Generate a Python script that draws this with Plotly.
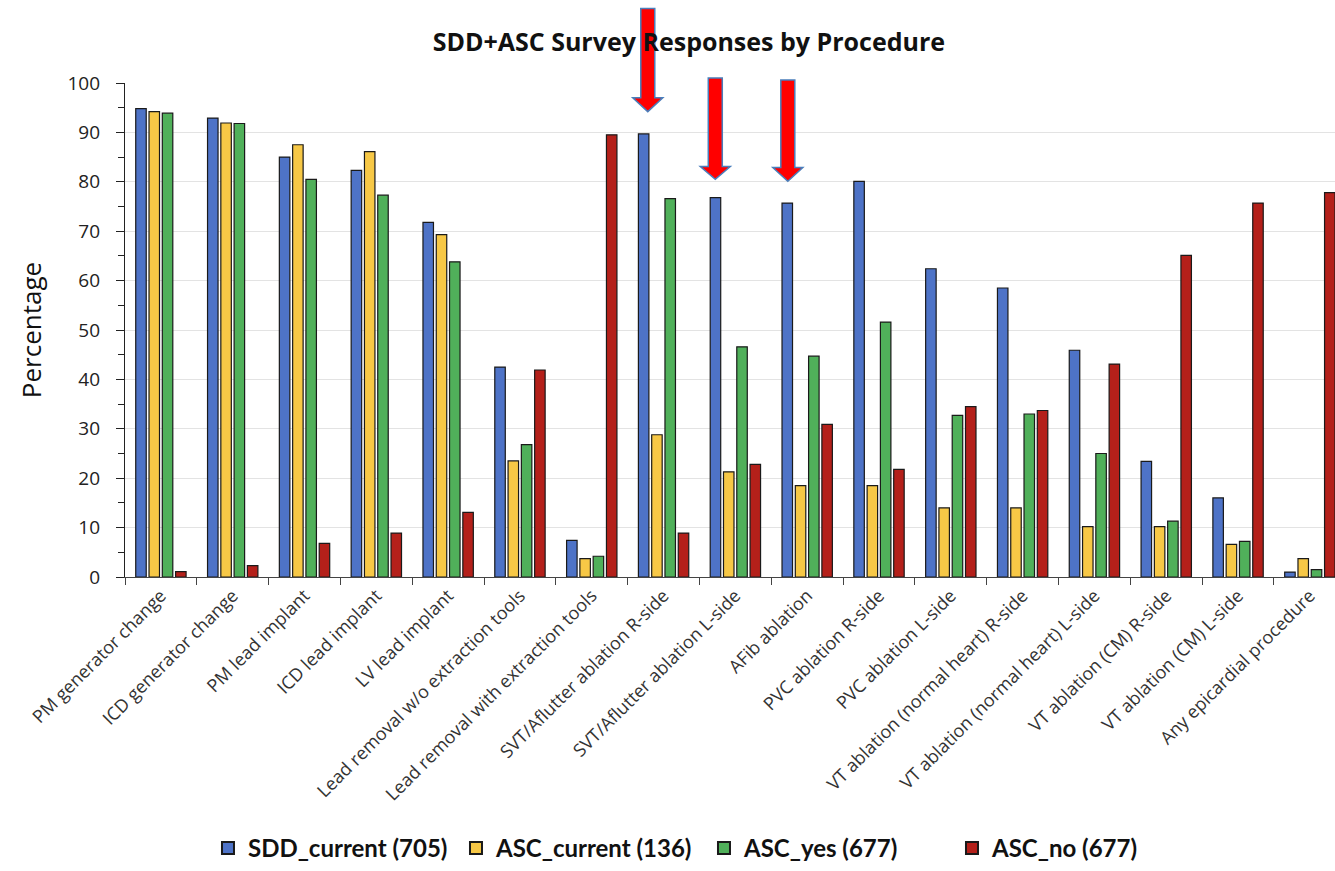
import plotly.graph_objects as go

categories = [
    "PM generator change", "ICD generator change", "PM lead implant", "ICD lead implant",
    "LV lead implant", "Lead removal w/o extraction tools", "Lead removal with extraction tools",
    "SVT/Aflutter ablation R-side", "SVT/Aflutter ablation L-side", "AFib ablation",
    "PVC ablation R-side", "PVC ablation L-side", "VT ablation (normal heart) R-side",
    "VT ablation (normal heart) L-side", "VT ablation (CM) R-side", "VT ablation (CM) L-side",
    "Any epicardial procedure",
]
sdd_current = [94.8, 92.9, 85.0, 82.3, 71.8, 42.5, 7.4, 89.7, 76.8, 75.7, 80.1, 62.4, 58.5, 45.9, 23.4, 16.0, 1.0]
asc_current = [94.2, 91.9, 87.5, 86.1, 69.3, 23.5, 3.7, 28.8, 21.3, 18.5, 18.5, 14.0, 14.0, 10.2, 10.2, 6.6, 3.7]
asc_yes = [93.9, 91.8, 80.5, 77.3, 63.8, 26.8, 4.2, 76.6, 46.6, 44.7, 51.6, 32.7, 33.0, 25.0, 11.3, 7.2, 1.5]
asc_no = [1.1, 2.3, 6.8, 8.9, 13.1, 41.9, 89.5, 8.9, 22.8, 30.9, 21.8, 34.5, 33.7, 43.1, 65.1, 75.7, 77.8]

series_names = ["SDD_current (705)", "ASC_current (136)", "ASC_yes (677)", "ASC_no (677)"]
series_values = [sdd_current, asc_current, asc_yes, asc_no]
series_colors = ["#4E73C7", "#F7C846", "#50B05A", "#B4201A"]

# highlighted categories (arrow annotations): (x position in category units, top, head base, tip in paper y)
arrow_specs = [
    (6.78, 1.151, 0.970, 0.942),
    (7.72, 1.010, 0.831, 0.805),
    (8.73, 1.006, 0.829, 0.801),
]

fig = go.Figure()
for name, vals, col in zip(series_names, series_values, series_colors):
    fig.add_trace(go.Bar(
        x=categories, y=vals, name=name,
        marker=dict(color=col, line=dict(color="#1a1a1a", width=1.2)),
    ))

shapes = []
hs, hh = 0.0975, 0.209
for cx, top, base, tip in arrow_specs:
    path = (f"M {cx-hs} {top} L {cx+hs} {top} L {cx+hs} {base} L {cx+hh} {base} "
            f"L {cx} {tip} L {cx-hh} {base} L {cx-hs} {base} Z")
    shapes.append(dict(type="path", xref="x", yref="paper", path=path,
                       fillcolor="#FF0000", line=dict(color="#4A7EBB", width=1.5), layer="above"))

fig.update_layout(
    width=1335, height=871,
    margin=dict(l=125, r=0, t=83, b=291),
    paper_bgcolor="white", plot_bgcolor="white",
    barmode="group", bargap=0.26, bargroupgap=0.21,
    font=dict(family="Open Sans", color="#222"),
    title=dict(text="<b>SDD+ASC Survey Responses by Procedure</b>",
               x=0.466, xref="paper", xanchor="center",
               y=1 - 42 / 871, yref="container", yanchor="middle",
               font=dict(size=25, color="#111", family="Open Sans")),
    legend=dict(orientation="h", x=0.4785, xanchor="center", y=-0.55, yanchor="middle",
                font=dict(size=24, color="#111", family="Lato", weight="bold"),
                itemsizing="constant", traceorder="normal", itemwidth=30,
                entrywidth=203, entrywidthmode="pixels"),
    shapes=shapes,
    showlegend=True,
)
fig.update_xaxes(
    type="category", range=[-0.5, 16.35], tickangle=-45, tickson="boundaries",
    ticks="outside", ticklen=7, tickcolor="#444", showline=True, linecolor="#444", linewidth=1.2,
    tickfont=dict(size=18, color="#333"), showgrid=False, automargin=False,
)
fig.update_yaxes(
    range=[0, 100], dtick=10, ticks="outside", ticklen=8, tickcolor="#222",
    minor=dict(ticks="outside", dtick=5, ticklen=6, tickcolor="#222"),
    showline=True, linecolor="#222", linewidth=1.2,
    showgrid=True, gridcolor="#E3E3E3", gridwidth=1,
    tickfont=dict(size=19, color="#222"), ticklabelstandoff=12,
    title=dict(text="Percentage", font=dict(size=26, color="#111"), standoff=18),
    automargin=False, zeroline=False,
)

fig.write_html("out.html", post_script="document.body.style.margin='0';",
               config={"displayModeBar": False})
